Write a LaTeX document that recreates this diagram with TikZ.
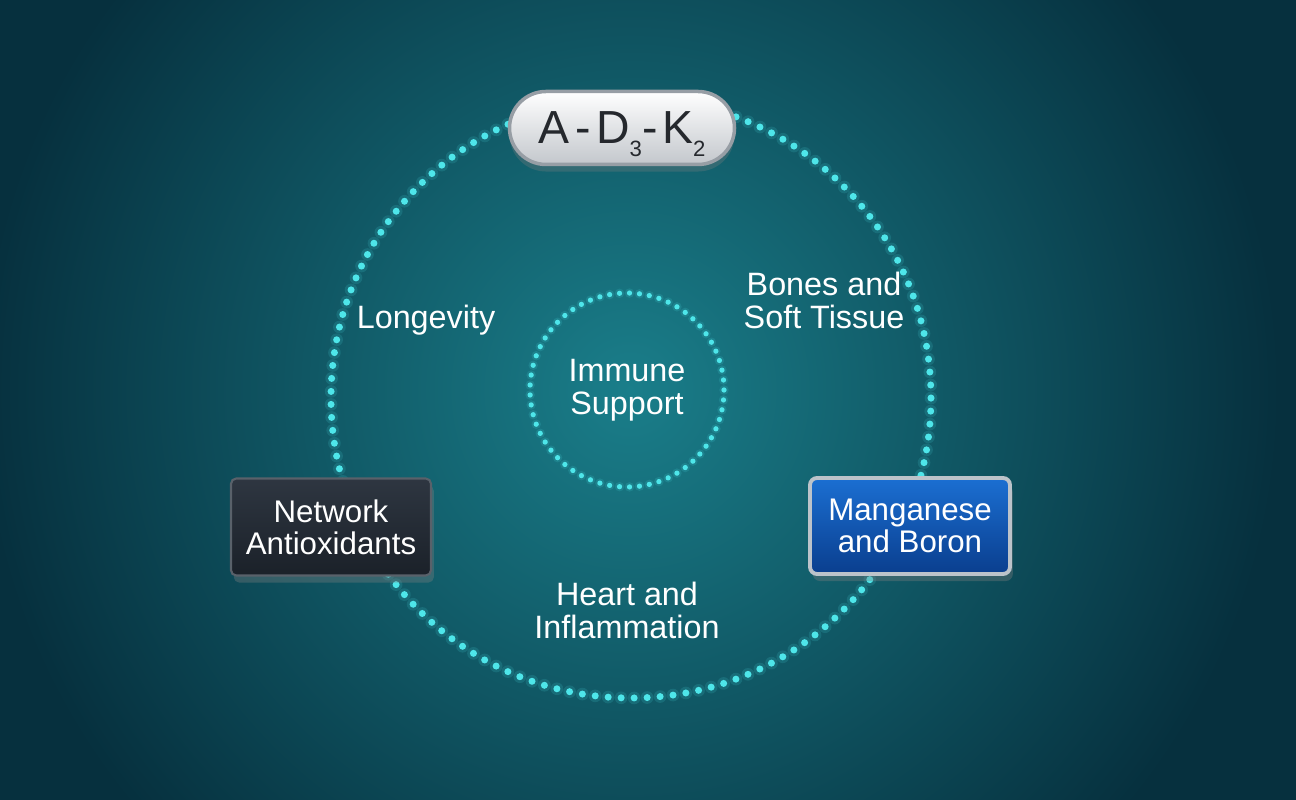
\documentclass[tikz,border=0pt]{standalone}
\usepackage{fontspec}
\setmainfont{Liberation Sans}
\usepackage{xcolor}
\usepackage{tikz}
\usetikzlibrary{shapes.misc,shadows}

\definecolor{bgdark}{HTML}{06303E}
\definecolor{bglight}{HTML}{1A7E8A}
\definecolor{dotcyan}{HTML}{4EE6EA}
\definecolor{pilltext}{HTML}{25282D}
\definecolor{pillrim}{HTML}{979EA5}
\definecolor{pillgray}{HTML}{C3C7CC}
\definecolor{slatetop}{HTML}{2E3641}
\definecolor{slatebot}{HTML}{1B2129}
\definecolor{slaterim}{HTML}{59616A}
\definecolor{bluetop}{HTML}{1B6FD2}
\definecolor{bluebot}{HTML}{0A3E8E}
\definecolor{silver}{HTML}{BCC3CA}

\newcommand{\lowdigit}[1]{\raisebox{-0.27em}[0pt][0pt]{\fontsize{6.3}{6.3}\selectfont #1}}

\tikzset{
  ringdots/.style={draw=dotcyan,line width=2pt,line cap=round,dash pattern=on 0pt off 3.699pt},
  ringglow/.style={draw=dotcyan,line width=3.6pt,line cap=round,dash pattern=on 0pt off 3.699pt,opacity=0.14},
  innerdots/.style={draw=dotcyan,line width=1.5pt,line cap=round,dash pattern=on 0pt off 2.843pt},
  innerglow/.style={draw=dotcyan,line width=2.7pt,line cap=round,dash pattern=on 0pt off 2.843pt,opacity=0.14},
  lbl/.style={text=white,align=center,inner sep=0pt,font=\fontsize{9.2}{9.4}\selectfont},
  pill/.style={rounded rectangle,draw=pillrim,line width=1pt,top color=white,bottom color=pillgray,
    minimum width=2.25cm,minimum height=0.73cm,inner sep=0pt,text=pilltext,
    drop shadow={shadow xshift=0pt,shadow yshift=-2pt,opacity=0.3}},
  slatebox/.style={rectangle,rounded corners=1.5pt,draw=slaterim,line width=0.6pt,
    top color=slatetop,bottom color=slatebot,minimum width=2cm,minimum height=0.97cm,
    text=white,align=center,inner sep=0pt,font=\fontsize{8.9}{9.2}\selectfont,
    drop shadow={shadow xshift=0.8pt,shadow yshift=-2pt,opacity=0.35}},
  bluebox/.style={rectangle,rounded corners=2pt,draw=silver,line width=1.1pt,
    top color=bluetop,bottom color=bluebot,minimum width=2cm,minimum height=0.96cm,
    text=white,align=center,inner sep=0pt,font=\fontsize{8.9}{9.2}\selectfont,
    drop shadow={shadow xshift=0.8pt,shadow yshift=-2pt,opacity=0.35}}
}

\begin{document}
\begin{tikzpicture}[node distance = 2cm,auto,inner sep=1pt]
\useasboundingbox (0,0) rectangle (12.96,8);
\fill[bgdark] (0,0) rectangle (12.96,8);
\shade[inner color=bglight,outer color=bgdark] (6.3,4.1) circle (6.5);

% rings
\coordinate (O) at (6.31,4.02);
\draw[ringglow] (O) circle (3);
\draw[ringdots] (O) circle (3);

\node[lbl] (imm) at (6.27,4.10) {Immune\\Support};
\draw[innerglow] (imm.center) circle (0.97);
\draw[innerdots] (imm.center) circle (0.97);

% labels
\node[lbl] (lng) [left of = imm, node distance = 2.01cm, yshift=0.70cm] {Longevity};
\node[lbl] (bst) [right of = imm, node distance = 1.97cm, yshift=0.90cm] {Bones and\\Soft Tissue};
\node[lbl] (hai) [below of = imm, node distance = 2.20cm] {Heart and\\Inflammation};

% boxes
\node[pill] (adk) [above of = imm, node distance = 2.62cm, xshift=-0.05cm]
  {\fontsize{13.2}{13.5}\selectfont A\hspace{0.12em}-\hspace{0.12em}D\lowdigit{3}-\hspace{0.1em}K\lowdigit{2}};
\node[slatebox] (net) [left of = imm, node distance = 2.96cm, yshift=-1.37cm] {Network\\Antioxidants};
\node[bluebox] (mnb) [right of = imm, node distance = 2.83cm, yshift=-1.36cm] {Manganese\\and Boron};

\end{tikzpicture}
\end{document}
